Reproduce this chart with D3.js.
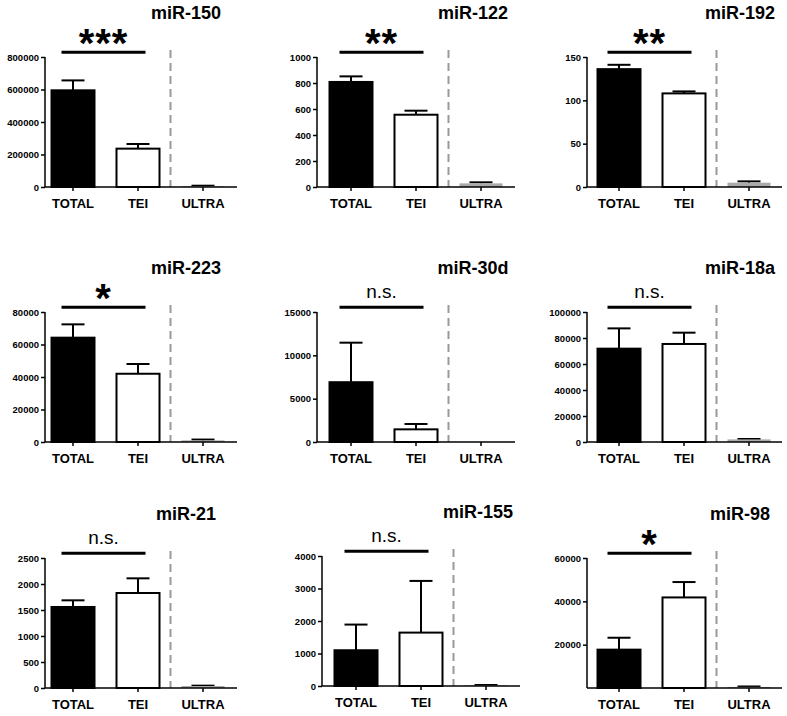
<!DOCTYPE html>
<html>
<head>
<meta charset="utf-8">
<script src="https://cdn.jsdelivr.net/npm/d3@7"></script>
<style>
  body { margin: 0; background: #fff; }
  svg { font-family: "Liberation Sans", Arial, sans-serif; }
</style>
</head>
<body>
<div id="chart"></div>
<script>
// one panel per miRNA, three groups each
const panels = ["miR-150", "miR-122", "miR-192", "miR-223", "miR-30d", "miR-18a", "miR-21", "miR-155", "miR-98"];
const groups = ["TOTAL", "TEI", "ULTRA"];

const meanTotal = [595000, 808, 136, 64200, 6900, 71800, 1558, 1100, 17700];
const meanTei   = [236000, 556, 108, 42000, 1460, 75400, 1827, 1643, 41800];
const meanUltra = [5000, 28, 5, 1000, 0, 2000, 38, 20, 500];

const errTotal = [61000, 43, 5, 8200, 4560, 15600, 128, 790, 5500];
const errTei   = [28600, 31, 2.3, 6000, 620, 8700, 282, 1590, 7100];
const errUltra = [3000, 8, 1.5, 500, 0, 300, 7, 10, 200];

const yMax = [800000, 1000, 150, 80000, 15000, 100000, 2500, 4000, 60000];
const yTicks = [
    [0, 200000, 400000, 600000, 800000],
    [0, 200, 400, 600, 800, 1000],
    [0, 50, 100, 150],
    [0, 20000, 40000, 60000, 80000],
    [0, 5000, 10000, 15000],
    [0, 20000, 40000, 60000, 80000, 100000],
    [0, 500, 1000, 1500, 2000, 2500],
    [0, 1000, 2000, 3000, 4000],
    [20000, 40000, 60000]
];
const sigLabels = ["***", "**", "**", "*", "n.s.", "n.s.", "n.s.", "n.s.", "*"];

// layout
const width = 787, height = 716;
const colAxisX = [45, 317, 587];
const colFirstCenter = [73, 351, 619];
const colAxisEnd = [237, 515, 782];
const colTitleX = [186, 473, 740];
const rowTop = [57, 312, 558];
const plotH = 130;
const fills = ["#000", "#fff", "#aaa"];

const svg = d3.select("#chart")
    .append("svg")
    .attr("width", width)
    .attr("height", height);

panels.forEach((name, i) => {
    const col = i % 3, row = Math.floor(i / 3);
    const shift = i === 7 ? 5 : 0;
    const top = rowTop[row] - (i === 7 ? 2 : 0);
    const bottom = top + plotH;
    const axisX = colAxisX[col] + shift;
    const c0 = colFirstCenter[col] + shift;

    const x = d3.scaleBand()
        .domain(groups)
        .range([c0 - 32.5, c0 + 162.5])
        .paddingInner(20 / 65)
        .paddingOuter(10 / 65);

    const y = d3.scaleLinear()
        .domain([0, yMax[i]])
        .range([bottom, top]);

    const g = svg.append("g");

    const vals = [
        { k: "TOTAL", m: meanTotal[i], e: errTotal[i] },
        { k: "TEI", m: meanTei[i], e: errTei[i] },
        { k: "ULTRA", m: meanUltra[i], e: errUltra[i] }
    ];

    // dashed separator before ULTRA
    const sepX = (x("TEI") + x.bandwidth() + x("ULTRA")) / 2;
    g.append("line")
        .attr("x1", sepX).attr("x2", sepX)
        .attr("y1", top - 7).attr("y2", bottom)
        .attr("stroke", "#999")
        .attr("stroke-width", 2)
        .attr("stroke-dasharray", "8,5");

    // error bars (upper only)
    const eb = g.selectAll(".err")
        .data(vals.filter(d => d.e > 0))
        .join("g");
    eb.append("line")
        .attr("x1", d => x(d.k) + x.bandwidth() / 2)
        .attr("x2", d => x(d.k) + x.bandwidth() / 2)
        .attr("y1", d => y(d.m))
        .attr("y2", d => y(d.m + d.e))
        .attr("stroke", "#000")
        .attr("stroke-width", 2);
    eb.append("line")
        .attr("x1", d => x(d.k) + x.bandwidth() / 2 - 11.5)
        .attr("x2", d => x(d.k) + x.bandwidth() / 2 + 11.5)
        .attr("y1", d => y(d.m + d.e))
        .attr("y2", d => y(d.m + d.e))
        .attr("stroke", "#000")
        .attr("stroke-width", 2);

    // bars
    g.selectAll(".bar")
        .data(vals)
        .join("rect")
        .attr("x", d => x(d.k) + 1)
        .attr("width", x.bandwidth() - 2)
        .attr("y", d => y(d.m))
        .attr("height", d => bottom - y(d.m))
        .attr("fill", (d, j) => fills[j])
        .attr("stroke", (d, j) => j === 2 ? "none" : "#000")
        .attr("stroke-width", 2);

    // y axis
    const yAxis = g.append("g")
        .attr("transform", `translate(${axisX},0)`)
        .call(d3.axisLeft(y).tickValues(yTicks[i]).tickFormat(d3.format("d"))
            .tickSize(4).tickSizeOuter(0).tickPadding(2));
    yAxis.select(".domain").attr("d", `M0,${top}V${bottom}`).attr("stroke-width", 1.5);
    yAxis.selectAll(".tick line").attr("stroke-width", 1.5);
    yAxis.selectAll("text")
        .style("font-size", "9.5px")
        .style("font-weight", "bold")
        .attr("fill", "#000");

    // x axis
    const xAxis = g.append("g")
        .attr("transform", `translate(0,${bottom})`)
        .call(d3.axisBottom(x).tickSize(4).tickSizeOuter(0).tickPadding(8));
    xAxis.select(".domain").attr("d", `M${axisX},0H${colAxisEnd[col] + shift}`).attr("stroke-width", 1.5);
    xAxis.selectAll(".tick line").attr("stroke-width", 1.5);
    xAxis.selectAll("text")
        .style("font-size", "13px")
        .style("font-weight", "bold")
        .attr("fill", "#000");

    // title
    g.append("text")
        .attr("x", colTitleX[col] + shift)
        .attr("y", top - 38.5)
        .attr("text-anchor", "middle")
        .style("font-size", "18px")
        .style("font-weight", "bold")
        .text(name);

    // significance bracket
    const lineY = top - 4.7;
    const lx1 = c0 - 11.5, lx2 = x("TEI") + x.bandwidth() / 2 + 7.5;
    g.append("line")
        .attr("x1", lx1).attr("x2", lx2)
        .attr("y1", lineY).attr("y2", lineY)
        .attr("stroke", "#000")
        .attr("stroke-width", 3);

    const isStar = sigLabels[i] !== "n.s.";
    g.append("text")
        .attr("x", (lx1 + lx2) / 2)
        .attr("y", isStar ? lineY + 5 : lineY - 9)
        .attr("text-anchor", "middle")
        .style("font-size", isStar ? "40px" : "19px")
        .style("font-weight", isStar ? "bold" : "normal")
        .style("letter-spacing", isStar ? "1px" : "0px")
        .text(sigLabels[i]);
});
</script>
</body>
</html>
